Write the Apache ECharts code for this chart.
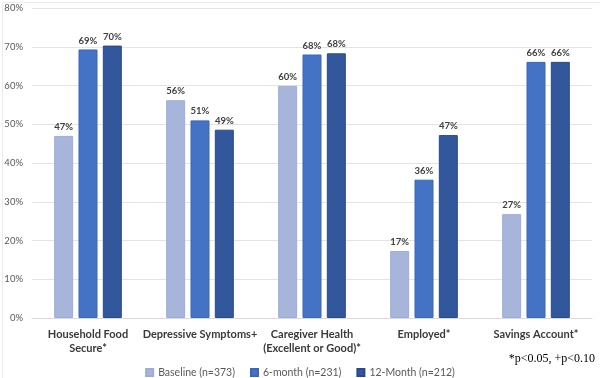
<!DOCTYPE html>
<html>
<head>
<meta charset="utf-8">
<script src="https://cdn.jsdelivr.net/npm/echarts@6/dist/echarts.min.js"></script>
<style>html,body{margin:0;padding:0;background:#fff}#c{width:600px;height:378px}</style>
</head>
<body>
<div id="c"></div>
<script>
const categories = ['Household Food\nSecure*', 'Depressive Symptoms+', 'Caregiver Health\n(Excellent or Good)*', 'Employed*', 'Savings Account*'];
const baseline = [47.0, 56.2, 59.9, 17.3, 26.8];
const sixMonth = [69.3, 51.0, 68.0, 35.7, 66.1];
const twelveMonth = [70.3, 48.6, 68.3, 47.2, 66.1];
const seriesNames = ['Baseline (n=373)', '6-month (n=231)', '12-Month (n=212)'];
const yTicks = [0, 10, 20, 30, 40, 50, 60, 70, 80];
const footnote = '*p<0.05, +p<0.10';

const font = 'Lato, "Open Sans", sans-serif';
const chart = echarts.init(document.getElementById('c'), null, {renderer: 'canvas'});
const lbl = {
  show: true, position: 'top', distance: 4,
  formatter: p => Math.round(p.value) + '%',
  fontFamily: font, fontSize: 9.5, fontWeight: 'bold', color: '#404040'
};
function mk(name, data, color, border) {
  return {
    name, type: 'bar', data, barWidth: 19, barGap: '28%',
    itemStyle: {color, borderColor: border, borderWidth: 1},
    label: lbl
  };
}
chart.setOption({
  animation: false,
  grid: {left: 32, right: 8, top: 8, bottom: 60},
  xAxis: {
    type: 'category', data: categories,
    axisLine: {lineStyle: {color: '#d9d9d9'}},
    axisTick: {show: false},
    axisLabel: {fontFamily: font, fontSize: 11, fontWeight: 'bold', color: '#3a3a3a', lineHeight: 14, margin: 9, interval: 0}
  },
  yAxis: {
    type: 'value', min: 0, max: 80, interval: 10,
    axisLabel: {formatter: v => yTicks.includes(v) ? v + '%' : '', fontFamily: font, fontSize: 9.5, color: '#595959', margin: 9},
    splitLine: {lineStyle: {color: '#e4e4e4'}},
    axisLine: {show: false}, axisTick: {show: false}
  },
  legend: {
    top: 362, left: 'center', itemWidth: 7, itemHeight: 7, itemGap: 15,
    icon: 'rect',
    textStyle: {fontFamily: font, fontSize: 10.5, color: '#595959'},
    data: seriesNames
  },
  graphic: [{
    type: 'rect', left: 0, top: 0, silent: true,
    shape: {x: 0.5, y: 0.5, width: 598, height: 377},
    style: {fill: 'none', stroke: '#ebebeb', lineWidth: 1}
  }, {
    type: 'text', right: 5, top: 353,
    style: {text: footnote, font: '12px "Liberation Serif", "DejaVu Serif", serif', fill: '#000'}
  }],
  series: [
    mk(seriesNames[0], baseline, '#A7B5DA', '#9dadd6'),
    mk(seriesNames[1], sixMonth, '#4472C4', '#3b67b8'),
    mk(seriesNames[2], twelveMonth, '#33579D', '#284a8c')
  ]
});
</script>
</body>
</html>
